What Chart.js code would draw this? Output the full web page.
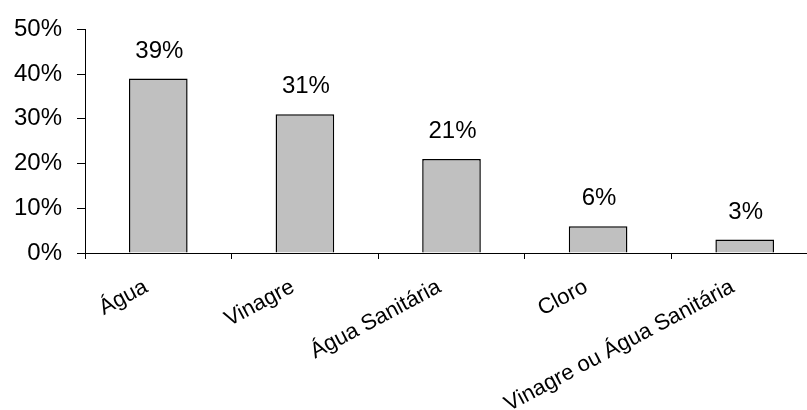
<!DOCTYPE html>
<html>
<head>
<meta charset="utf-8">
<script src="https://cdn.jsdelivr.net/npm/chart.js@4"></script>
<style>
    html, body { margin: 0; padding: 0; background: #fff; overflow: hidden; }
    #wrap { width: 807px; height: 410px; overflow: hidden; }
</style>
</head>
<body>
<div id="wrap"><canvas id="chart" width="822" height="410"></canvas></div>
<script>
// Chart data
const categories = ['Água', 'Vinagre', 'Água Sanitária', 'Cloro', 'Vinagre ou Água Sanitária'];
const percentValues = [39, 31, 21, 6, 3];
const yTicks = [0, 10, 20, 30, 40, 50];

const fontFamily = '"Liberation Sans", Arial, sans-serif';

// draws the value above every bar
const valueLabels = {
    id: 'valueLabels',
    afterDatasetsDraw(chart) {
        const ctx = chart.ctx;
        const meta = chart.getDatasetMeta(0);
        ctx.save();
        ctx.font = '24px ' + fontFamily;
        ctx.fillStyle = '#000';
        ctx.textAlign = 'center';
        ctx.textBaseline = 'alphabetic';
        meta.data.forEach((bar, i) => {
            ctx.fillText(percentValues[i] + '%', bar.x + 1, bar.y - 21);
        });
        ctx.restore();
    }
};

new Chart(document.getElementById('chart').getContext('2d'), {
    type: 'bar',
    data: {
        labels: categories,
        datasets: [{
            data: percentValues,
            backgroundColor: '#c0c0c0',
            borderColor: '#000',
            borderWidth: 1.5,
            barPercentage: 0.4,
            categoryPercentage: 1
        }]
    },
    options: {
        responsive: false,
        animation: false,
        layout: { padding: { left: 0, top: 20, right: 4, bottom: 0 } },
        plugins: {
            legend: { display: false },
            tooltip: { enabled: false }
        },
        scales: {
            x: {
                afterFit(axis) { axis.height = 157; },
                grid: { display: true, drawOnChartArea: false, drawTicks: true, tickLength: 6, color: '#000', offset: true },
                border: { color: '#000', width: 1 },
                ticks: {
                    color: '#000',
                    font: { family: fontFamily, size: 22 },
                    minRotation: 28,
                    maxRotation: 28,
                    padding: 15,
                    labelOffset: -12
                }
            },
            y: {
                min: 0,
                max: 50,
                afterFit(axis) { axis.width = 85; },
                afterBuildTicks(axis) {
                    axis.ticks = yTicks.map(v => ({ value: v }));
                },
                grid: { display: true, drawOnChartArea: false, drawTicks: true, tickLength: 8, color: '#000' },
                border: { color: '#000', width: 1 },
                ticks: {
                    color: '#000',
                    font: { family: fontFamily, size: 24 },
                    padding: 15,
                    callback: v => v + '%'
                }
            }
        }
    },
    plugins: [valueLabels]
});
</script>
</body>
</html>
